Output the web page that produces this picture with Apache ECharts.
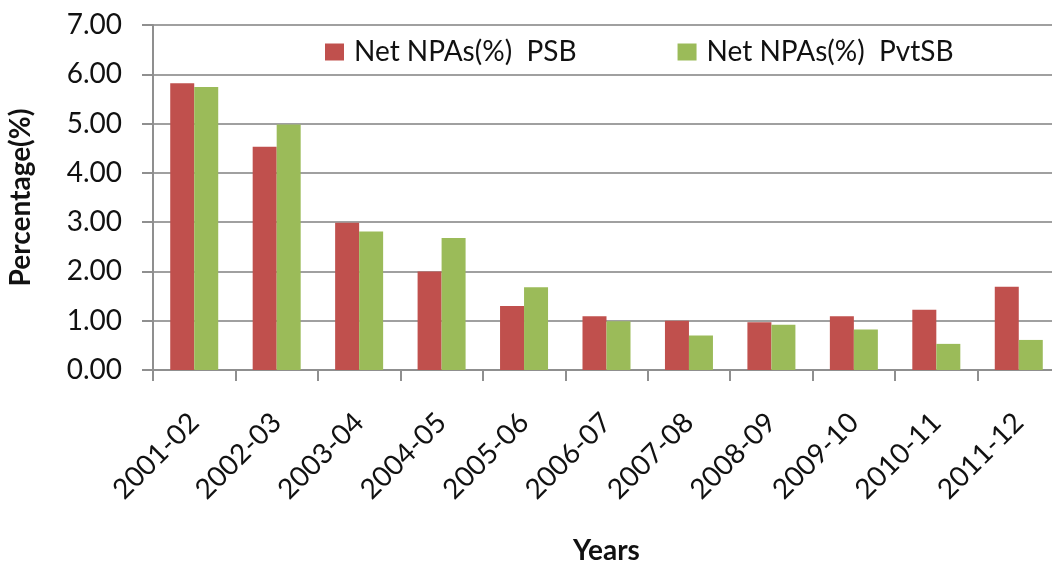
<!DOCTYPE html>
<html>
<head>
<meta charset="utf-8">
<script src="https://cdn.jsdelivr.net/npm/echarts@6/dist/echarts.min.js"></script>
<style>
html,body{margin:0;padding:0;background:#fff;}
#chart{width:1052px;height:566px;}
</style>
</head>
<body>
<div id="chart"></div>
<script>
const categories = ['2001-02','2002-03','2003-04','2004-05','2005-06','2006-07','2007-08','2008-09','2009-10','2010-11','2011-12'];
const psbValues = [5.82, 4.53, 2.99, 2.00, 1.30, 1.09, 1.00, 0.97, 1.09, 1.22, 1.69];
const pvtsbValues = [5.74, 4.98, 2.81, 2.68, 1.68, 0.99, 0.70, 0.92, 0.82, 0.53, 0.61];
const seriesNames = ['Net NPAs(%)  PSB', 'Net NPAs(%)  PvtSB'];
const yTicks = {min: 0, max: 7, interval: 1};

const FONT = 'Lato';
const chart = echarts.init(document.getElementById('chart'), null, {renderer: 'canvas'});
chart.setOption({
  animation: false,
  backgroundColor: '#ffffff',
  grid: {left: 153, top: 25, width: 907, height: 345, containLabel: false, outerBoundsMode: 'none'},
  legend: {
    left: 320, top: 33,
    itemWidth: 19, itemHeight: 17, itemGap: 101,
    icon: 'rect',
    textStyle: {fontFamily: FONT, fontSize: 28, color: '#111', padding: [0,0,0,5]},
    data: seriesNames
  },
  xAxis: {
    type: 'category',
    data: categories,
    name: 'Years',
    nameLocation: 'middle',
    nameGap: 167,
    nameTextStyle: {fontFamily: FONT, fontSize: 28, fontWeight: 'bold', color: '#111'},
    axisLine: {lineStyle: {color: '#8f8f8f', width: 2}},
    axisTick: {show: true, length: 11, lineStyle: {color: '#8f8f8f', width: 2}},
    axisLabel: {rotate: 45, margin: 48, fontFamily: FONT, fontSize: 28, color: '#111', interval: 0}
  },
  yAxis: {
    type: 'value',
    min: yTicks.min, max: yTicks.max, interval: yTicks.interval,
    name: 'Percentage(%)',
    nameLocation: 'middle',
    nameGap: 118,
    nameRotate: 90,
    nameTextStyle: {fontFamily: FONT, fontSize: 28, fontWeight: 'bold', color: '#111'},
    axisLine: {show: true, lineStyle: {color: '#8f8f8f', width: 2}},
    axisTick: {show: true, length: 11, lineStyle: {color: '#8f8f8f', width: 2}},
    splitLine: {show: true, lineStyle: {color: '#a0a0a0', width: 2}},
    axisLabel: {margin: 31, fontFamily: FONT, fontSize: 28, color: '#111', formatter: v => v.toFixed(2)}
  },
  series: [
    {name: seriesNames[0], type: 'bar', data: psbValues, barWidth: 24, barGap: '0%', itemStyle: {color: '#C0504D'}},
    {name: seriesNames[1], type: 'bar', data: pvtsbValues, barWidth: 24, barGap: '0%', itemStyle: {color: '#9BBB59'}}
  ]
});
</script>
</body>
</html>
